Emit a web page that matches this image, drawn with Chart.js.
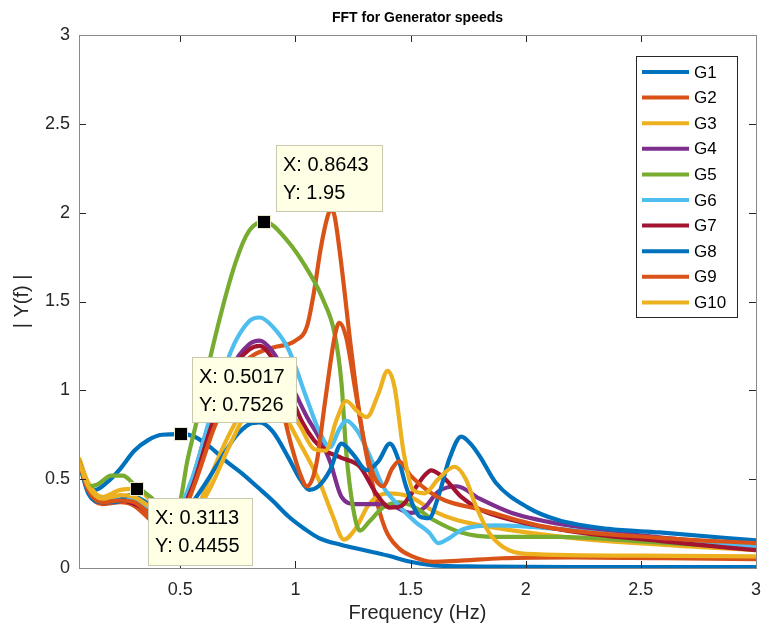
<!DOCTYPE html>
<html>
<head>
<meta charset="utf-8">
<script src="https://cdn.jsdelivr.net/npm/chart.js@4.4.1/dist/chart.umd.min.js"></script>
<style>
  html, body { margin: 0; padding: 0; background: #fff; }
</style>
</head>
<body>
<canvas id="fft" width="764" height="636"></canvas>
<script>
// ---- data: [frequency (Hz), |Y(f)|] ----
const seriesNames = ['G1', 'G2', 'G3', 'G4', 'G5', 'G6', 'G7', 'G8', 'G9', 'G10'];
const seriesColors = ['#0072BD', '#D95319', '#EDB120', '#7E2F8E', '#77AC30',
                      '#4DBEEE', '#A2142F', '#0072BD', '#D95319', '#EDB120'];

const g1 = [[0.06,0.61],[0.1,0.47],[0.13,0.44],[0.18,0.48],[0.24,0.56],[0.3,0.66],[0.36,0.72],[0.42,0.75],
  [0.5,0.753],[0.56,0.74],[0.63,0.68],[0.7,0.6],[0.77,0.53],[0.84,0.45],[0.9,0.38],[0.97,0.29],[1.04,0.22],
  [1.1,0.17],[1.2,0.13],[1.3,0.1],[1.4,0.07],[1.5,0.035],[1.6,0.015],[1.8,0.008],[2.2,0.005],[3,0.005]];
const g2 = [[0.06,0.6],[0.1,0.43],[0.16,0.36],[0.24,0.37],[0.3,0.35],[0.37,0.27],[0.43,0.2],[0.48,0.22],
  [0.54,0.44],[0.61,0.75],[0.68,0.98],[0.75,1.12],[0.82,1.2],[0.9,1.24],[1.0,1.28],[1.05,1.36],[1.08,1.55],
  [1.11,1.8],[1.14,1.98],[1.155,2.02],[1.17,1.98],[1.2,1.7],[1.24,1.25],[1.28,0.85],[1.33,0.5],[1.39,0.22],
  [1.45,0.11],[1.5,0.07],[1.6,0.035],[1.7,0.04],[1.9,0.055],[2.2,0.06],[2.6,0.055],[3,0.05]];
const g3 = [[0.06,0.62],[0.1,0.48],[0.16,0.4],[0.24,0.44],[0.3113,0.4455],[0.37,0.38],[0.44,0.28],[0.5,0.24],
  [0.56,0.3],[0.62,0.48],[0.7,0.72],[0.78,0.9],[0.86,0.96],[0.94,0.88],[1.02,0.7],[1.1,0.5],[1.16,0.3],
  [1.21,0.16],[1.26,0.22],[1.32,0.36],[1.4,0.42],[1.5,0.4],[1.6,0.32],[1.7,0.27],[1.85,0.23],[2.2,0.17],
  [2.6,0.13],[3,0.1]];
const g4 = [[0.06,0.6],[0.1,0.44],[0.16,0.37],[0.24,0.38],[0.32,0.35],[0.4,0.28],[0.47,0.27],[0.55,0.45],
  [0.63,0.8],[0.72,1.12],[0.8,1.26],[0.845,1.28],[0.9,1.22],[0.97,1.06],[1.05,0.85],[1.1,0.74],[1.15,0.6],
  [1.2,0.4],[1.26,0.36],[1.35,0.36],[1.42,0.35],[1.5,0.31],[1.56,0.34],[1.62,0.43],[1.7,0.46],[1.8,0.39],
  [1.94,0.31],[2.23,0.23],[2.6,0.17],[3,0.13]];
const g5 = [[0.06,0.58],[0.1,0.46],[0.14,0.47],[0.2,0.52],[0.25,0.52],[0.3,0.47],[0.37,0.4],[0.43,0.33],
  [0.47,0.3],[0.5,0.38],[0.53,0.6],[0.57,0.82],[0.64,1.24],[0.74,1.72],[0.8,1.9],[0.8643,1.95],[0.96,1.85],
  [1.07,1.64],[1.12,1.51],[1.17,1.32],[1.2,1.04],[1.22,0.66],[1.25,0.34],[1.28,0.21],[1.32,0.26],[1.38,0.34],
  [1.45,0.37],[1.52,0.34],[1.6,0.27],[1.72,0.2],[1.87,0.175],[2.14,0.175],[2.5,0.15],[3,0.11]];
const g6 = [[0.06,0.6],[0.1,0.45],[0.16,0.39],[0.24,0.4],[0.32,0.37],[0.4,0.3],[0.47,0.3],[0.55,0.5],
  [0.63,0.85],[0.72,1.22],[0.8,1.39],[0.845,1.41],[0.9,1.36],[0.97,1.23],[1.05,0.95],[1.1,0.78],[1.15,0.68],
  [1.19,0.78],[1.22,0.83],[1.27,0.77],[1.32,0.64],[1.38,0.46],[1.45,0.35],[1.52,0.26],[1.58,0.2],[1.62,0.14],
  [1.67,0.17],[1.73,0.22],[1.87,0.24],[2.14,0.22],[2.5,0.17],[3,0.12]];
const g7 = [[0.06,0.6],[0.1,0.44],[0.16,0.37],[0.24,0.38],[0.32,0.35],[0.4,0.28],[0.47,0.27],[0.55,0.45],
  [0.63,0.78],[0.72,1.1],[0.8,1.23],[0.845,1.25],[0.9,1.18],[0.97,1.0],[1.03,0.82],[1.08,0.72],[1.13,0.66],
  [1.2,0.62],[1.28,0.57],[1.35,0.42],[1.41,0.34],[1.46,0.35],[1.51,0.43],[1.56,0.52],[1.59,0.55],[1.65,0.5],
  [1.72,0.4],[1.8,0.33],[1.94,0.27],[2.23,0.2],[2.6,0.15],[3,0.1]];
const g8 = [[0.06,0.6],[0.1,0.42],[0.16,0.37],[0.22,0.37],[0.28,0.41],[0.34,0.38],[0.42,0.3],[0.5,0.3],
  [0.58,0.42],[0.66,0.58],[0.74,0.74],[0.8,0.81],[0.845,0.82],[0.9,0.77],[0.97,0.62],[1.02,0.5],[1.06,0.44],
  [1.1,0.46],[1.15,0.55],[1.2,0.7],[1.25,0.64],[1.31,0.55],[1.36,0.6],[1.41,0.7],[1.45,0.6],[1.48,0.46],
  [1.54,0.29],[1.58,0.28],[1.62,0.4],[1.67,0.62],[1.72,0.74],[1.76,0.7],[1.8,0.63],[1.87,0.48],[2.01,0.34],
  [2.14,0.27],[2.36,0.22],[2.58,0.2],[3,0.155]];
const g9 = [[0.06,0.6],[0.1,0.44],[0.16,0.37],[0.24,0.38],[0.3,0.37],[0.37,0.3],[0.44,0.24],[0.5,0.28],
  [0.57,0.5],[0.65,0.8],[0.73,1.0],[0.8,1.1],[0.86,1.12],[0.92,1.0],[0.98,0.7],[1.02,0.53],[1.05,0.46],
  [1.09,0.58],[1.13,0.95],[1.17,1.3],[1.19,1.38],[1.22,1.3],[1.26,1.0],[1.3,0.7],[1.34,0.52],[1.38,0.46],
  [1.42,0.56],[1.45,0.6],[1.5,0.52],[1.58,0.43],[1.65,0.38],[1.8,0.33],[2.09,0.23],[2.58,0.17],[3,0.14]];
const g10 = [[0.06,0.6],[0.1,0.46],[0.16,0.39],[0.24,0.41],[0.3,0.4],[0.37,0.34],[0.44,0.26],[0.5,0.24],
  [0.56,0.3],[0.63,0.45],[0.7,0.65],[0.78,0.86],[0.86,1.0],[0.94,0.95],[1.02,0.8],[1.08,0.67],[1.13,0.66],
  [1.18,0.84],[1.22,0.94],[1.27,0.88],[1.31,0.85],[1.36,0.98],[1.4,1.11],[1.43,1.02],[1.47,0.65],[1.51,0.44],
  [1.56,0.42],[1.62,0.5],[1.69,0.57],[1.74,0.5],[1.78,0.36],[1.84,0.2],[1.9,0.12],[2.0,0.08],[2.5,0.07],
  [3,0.065]];
const allSeries = [g1, g2, g3, g4, g5, g6, g7, g8, g9, g10];

const xTicks = [0.5, 1, 1.5, 2, 2.5, 3];
const yTicks = [0, 0.5, 1, 1.5, 2, 2.5, 3];

// data tips (series index, x, y)
const tipSeries = [4, 0, 2];
const tipX = [0.8643, 0.5017, 0.3113];
const tipY = [1.95, 0.7526, 0.4455];

const FONT = "Arial, 'Liberation Sans', Helvetica, sans-serif";
const INK = '#262626';

// frame, inward ticks, title, legend, datatips (MATLAB look)
const matlabAxes = {
    id: 'matlabAxes',
    afterDatasetsDraw(chart) {
        const { ctx, chartArea: a, scales: { x, y } } = chart;
        ctx.save();
        ctx.strokeStyle = INK;
        ctx.lineWidth = 1;
        ctx.beginPath();
        xTicks.forEach(v => {
            const px = Math.round(x.getPixelForValue(v)) + 0.5;
            ctx.moveTo(px, a.bottom); ctx.lineTo(px, a.bottom - 7);
            ctx.moveTo(px, a.top); ctx.lineTo(px, a.top + 7);
        });
        yTicks.forEach(v => {
            const py = Math.round(y.getPixelForValue(v)) + 0.5;
            ctx.moveTo(a.left, py); ctx.lineTo(a.left + 7, py);
            ctx.moveTo(a.right, py); ctx.lineTo(a.right - 7, py);
        });
        ctx.stroke();
        ctx.strokeStyle = '#8a8a8a';
        ctx.strokeRect(Math.round(a.left) + 0.5, Math.round(a.top) + 0.5,
                       Math.round(a.right - a.left), Math.round(a.bottom - a.top));

        // title
        ctx.fillStyle = '#000';
        ctx.font = 'bold 14px ' + FONT;
        ctx.textAlign = 'center';
        ctx.textBaseline = 'middle';
        ctx.fillText('FFT for Generator speeds', (a.left + a.right) / 2, 18);

        // legend
        const lx = 636, ly = 56, lw = 101, lh = 261;
        ctx.fillStyle = '#fff';
        ctx.fillRect(lx, ly, lw, lh);
        ctx.strokeStyle = '#262626';
        ctx.strokeRect(lx + 0.5, ly + 0.5, lw, lh);
        ctx.font = '17px ' + FONT;
        ctx.textAlign = 'left';
        seriesNames.forEach((name, i) => {
            const ry = ly + 16 + i * 25.6;
            ctx.strokeStyle = seriesColors[i];
            ctx.lineWidth = 4;
            ctx.beginPath(); ctx.moveTo(lx + 6, ry); ctx.lineTo(lx + 53, ry); ctx.stroke();
            ctx.fillStyle = '#000';
            ctx.fillText(name, lx + 58, ry + 1);
        });

        // datatips
        const offs = [[12, -77, 106, 66], [11, -77, 104, 65], [11, 9, 104, 67]];
        ctx.lineWidth = 1;
        tipX.forEach((tx, i) => {
            const px = x.getPixelForValue(tx), py = y.getPixelForValue(tipY[i]);
            const [dx, dy, bw, bh] = offs[i];
            const bx = Math.round(px + dx), by = Math.round(py + dy);
            ctx.fillStyle = '#FFFFE6';
            ctx.fillRect(bx, by, bw, bh);
            ctx.strokeStyle = '#c9c9b0';
            ctx.strokeRect(bx + 0.5, by + 0.5, bw, bh);
            ctx.fillStyle = '#000';
            ctx.font = '20px ' + FONT;
            ctx.textAlign = 'left';
            ctx.fillText('X: ' + tx, bx + 7, by + 20);
            ctx.fillText('Y: ' + tipY[i], bx + 7, by + 48);
            ctx.fillStyle = '#000';
            ctx.fillRect(Math.round(px) - 6, Math.round(py) - 6, 12, 12);
            ctx.strokeStyle = '#e6e6c8';
            ctx.strokeRect(Math.round(px) - 6.5, Math.round(py) - 6.5, 13, 13);
        });
        ctx.restore();
    }
};

new Chart(document.getElementById('fft'), {
    type: 'line',
    data: {
        datasets: allSeries.map((pts, i) => ({
            label: seriesNames[i],
            data: pts.map(([fx, fy]) => ({ x: fx, y: fy })),
            borderColor: seriesColors[i],
            backgroundColor: seriesColors[i],
            borderWidth: 4.2,
            pointRadius: 0,
            cubicInterpolationMode: 'monotone',
            order: allSeries.length - i
        }))
    },
    options: {
        responsive: false,
        animation: false,
        layout: { padding: { top: 35, right: 7, left: 0, bottom: 0 } },
        plugins: { legend: { display: false }, tooltip: { enabled: false }, title: { display: false } },
        scales: {
            x: {
                type: 'linear', min: 0.06, max: 3,
                grid: { display: false }, border: { display: false },
                afterBuildTicks: s => { s.ticks = xTicks.map(v => ({ value: v })); },
                afterFit: s => { s.height = 68; },
                ticks: { padding: 3, color: INK, font: { size: 18, family: FONT }, maxRotation: 0, autoSkip: false,
                         callback: v => String(v) },
                title: { display: true, text: 'Frequency (Hz)', color: INK, font: { size: 20, family: FONT },
                         padding: { top: 0, bottom: 11 } }
            },
            y: {
                type: 'linear', min: 0, max: 3,
                grid: { display: false }, border: { display: false },
                afterBuildTicks: s => { s.ticks = yTicks.map(v => ({ value: v })); },
                afterFit: s => { s.width = 79; },
                ticks: { padding: 1, color: INK, font: { size: 18, family: FONT }, callback: v => String(v) },
                title: { display: true, text: '| Y(f) |', color: INK, font: { size: 20, family: FONT },
                         padding: { top: 10, bottom: 0 } }
            }
        }
    },
    plugins: [matlabAxes]
});
</script>
</body>
</html>
